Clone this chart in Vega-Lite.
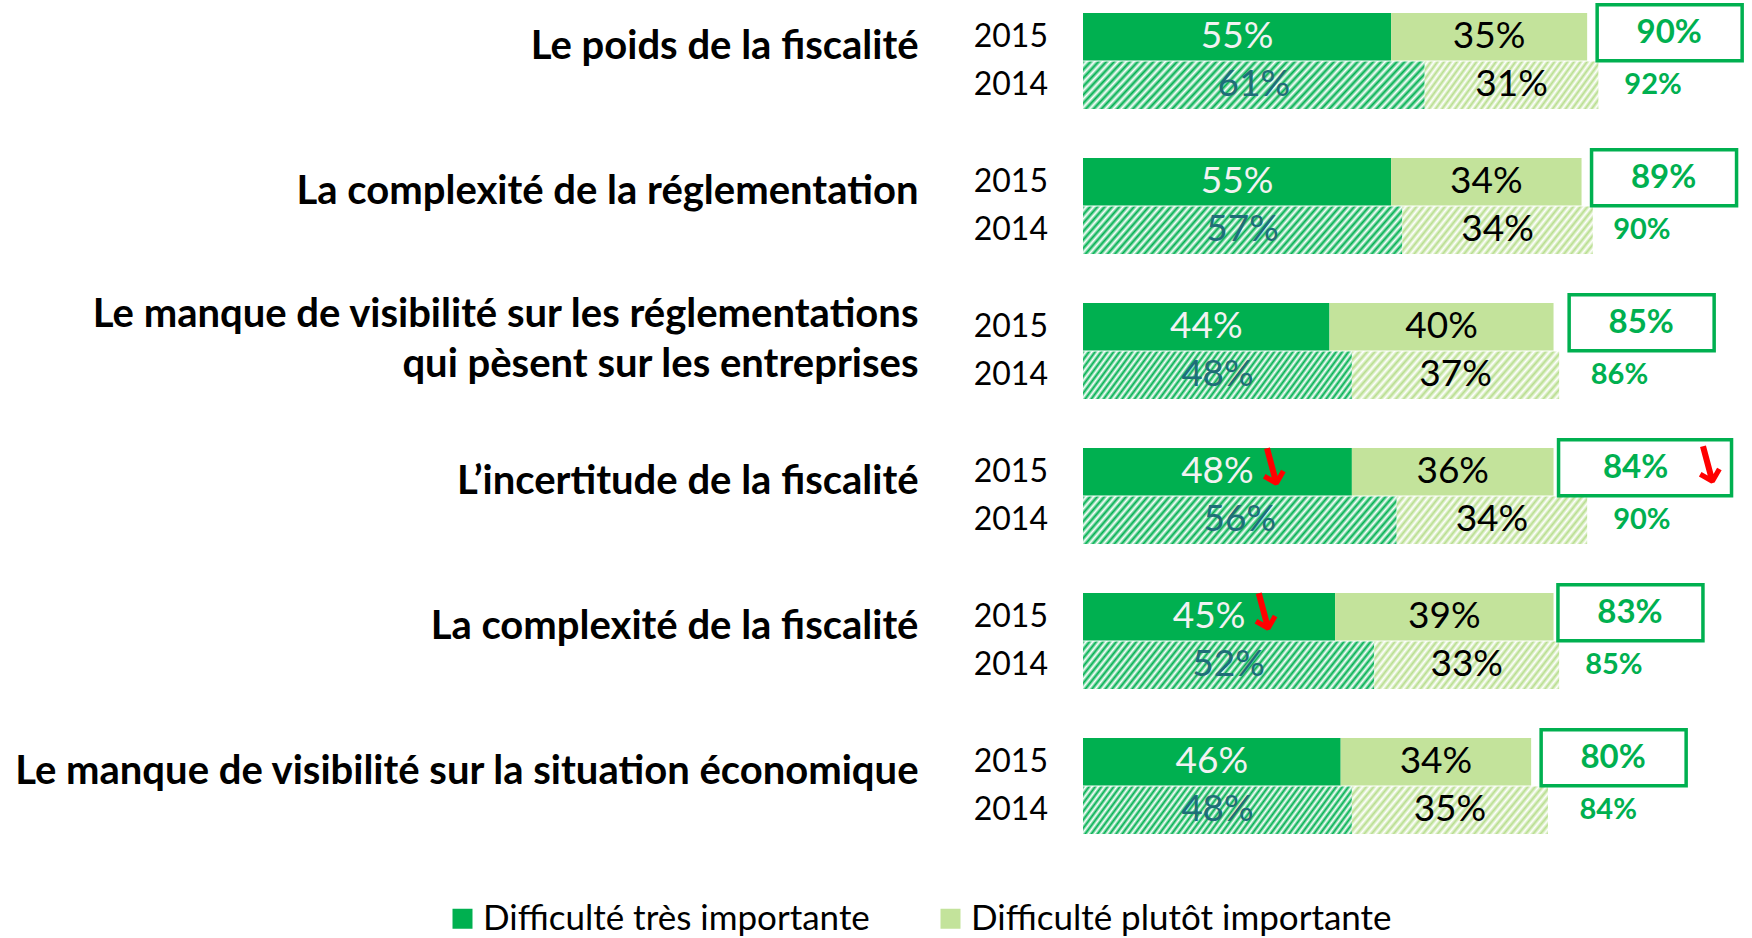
{
"$schema":"https://vega.github.io/schema/vega-lite/v6.json",
"autosize":{"type":"none"},
"padding":{"left":1083,"top":13,"right":8,"bottom":104},
"width":661,
"height":821,
"config":{"view":{"stroke":null},"font":"Lato"},
"datasets":{
"seg":[
{"cat":"Le poids de la fiscalité","year":"2015","seg":"Difficulté très importante","o":1,"v":0.55,"arrow":false},
{"cat":"Le poids de la fiscalité","year":"2015","seg":"Difficulté plutôt importante","o":2,"v":0.35,"arrow":false},
{"cat":"Le poids de la fiscalité","year":"2014","seg":"Difficulté très importante","o":1,"v":0.61,"arrow":false},
{"cat":"Le poids de la fiscalité","year":"2014","seg":"Difficulté plutôt importante","o":2,"v":0.31,"arrow":false},
{"cat":"La complexité de la réglementation","year":"2015","seg":"Difficulté très importante","o":1,"v":0.55,"arrow":false},
{"cat":"La complexité de la réglementation","year":"2015","seg":"Difficulté plutôt importante","o":2,"v":0.34,"arrow":false},
{"cat":"La complexité de la réglementation","year":"2014","seg":"Difficulté très importante","o":1,"v":0.57,"arrow":false},
{"cat":"La complexité de la réglementation","year":"2014","seg":"Difficulté plutôt importante","o":2,"v":0.34,"arrow":false},
{"cat":"Le manque de visibilité sur les réglementations|qui pèsent sur les entreprises","year":"2015","seg":"Difficulté très importante","o":1,"v":0.44,"arrow":false},
{"cat":"Le manque de visibilité sur les réglementations|qui pèsent sur les entreprises","year":"2015","seg":"Difficulté plutôt importante","o":2,"v":0.40,"arrow":false},
{"cat":"Le manque de visibilité sur les réglementations|qui pèsent sur les entreprises","year":"2014","seg":"Difficulté très importante","o":1,"v":0.48,"arrow":false},
{"cat":"Le manque de visibilité sur les réglementations|qui pèsent sur les entreprises","year":"2014","seg":"Difficulté plutôt importante","o":2,"v":0.37,"arrow":false},
{"cat":"L’incertitude de la fiscalité","year":"2015","seg":"Difficulté très importante","o":1,"v":0.48,"arrow":true},
{"cat":"L’incertitude de la fiscalité","year":"2015","seg":"Difficulté plutôt importante","o":2,"v":0.36,"arrow":false},
{"cat":"L’incertitude de la fiscalité","year":"2014","seg":"Difficulté très importante","o":1,"v":0.56,"arrow":false},
{"cat":"L’incertitude de la fiscalité","year":"2014","seg":"Difficulté plutôt importante","o":2,"v":0.34,"arrow":false},
{"cat":"La complexité de la fiscalité","year":"2015","seg":"Difficulté très importante","o":1,"v":0.45,"arrow":true},
{"cat":"La complexité de la fiscalité","year":"2015","seg":"Difficulté plutôt importante","o":2,"v":0.39,"arrow":false},
{"cat":"La complexité de la fiscalité","year":"2014","seg":"Difficulté très importante","o":1,"v":0.52,"arrow":false},
{"cat":"La complexité de la fiscalité","year":"2014","seg":"Difficulté plutôt importante","o":2,"v":0.33,"arrow":false},
{"cat":"Le manque de visibilité sur la situation économique","year":"2015","seg":"Difficulté très importante","o":1,"v":0.46,"arrow":false},
{"cat":"Le manque de visibilité sur la situation économique","year":"2015","seg":"Difficulté plutôt importante","o":2,"v":0.34,"arrow":false},
{"cat":"Le manque de visibilité sur la situation économique","year":"2014","seg":"Difficulté très importante","o":1,"v":0.48,"arrow":false},
{"cat":"Le manque de visibilité sur la situation économique","year":"2014","seg":"Difficulté plutôt importante","o":2,"v":0.35,"arrow":false}
],
"tot":[
{"cat":"Le poids de la fiscalité","year":"2015","total":0.90,"arrow":false},
{"cat":"Le poids de la fiscalité","year":"2014","total":0.92,"arrow":false},
{"cat":"La complexité de la réglementation","year":"2015","total":0.89,"arrow":false},
{"cat":"La complexité de la réglementation","year":"2014","total":0.90,"arrow":false},
{"cat":"Le manque de visibilité sur les réglementations|qui pèsent sur les entreprises","year":"2015","total":0.85,"arrow":false},
{"cat":"Le manque de visibilité sur les réglementations|qui pèsent sur les entreprises","year":"2014","total":0.86,"arrow":false},
{"cat":"L’incertitude de la fiscalité","year":"2015","total":0.84,"arrow":true},
{"cat":"L’incertitude de la fiscalité","year":"2014","total":0.90,"arrow":false},
{"cat":"La complexité de la fiscalité","year":"2015","total":0.83,"arrow":false},
{"cat":"La complexité de la fiscalité","year":"2014","total":0.85,"arrow":false},
{"cat":"Le manque de visibilité sur la situation économique","year":"2015","total":0.80,"arrow":false},
{"cat":"Le manque de visibilité sur la situation économique","year":"2014","total":0.84,"arrow":false}
]
},
"encoding":{
"y":{"field":"cat","type":"nominal","title":null,
"scale":{"domain":["Le poids de la fiscalité","La complexité de la réglementation","Le manque de visibilité sur les réglementations|qui pèsent sur les entreprises","L’incertitude de la fiscalité","La complexité de la fiscalité","Le manque de visibilité sur la situation économique"],"paddingInner":0.338,"paddingOuter":0},
"axis":{"labelExpr":"split(datum.label, '|')","labelFont":"Lato","labelFontWeight":"bold","labelFontSize":40,"labelColor":"#000000","labelPadding":165,"labelLimit":0,"ticks":false,"domain":false,"grid":false,
"labelOffset":{"condition":{"test":"indexof(datum.label, '|') >= 0","value":-36},"value":-14},
"labelLineHeight":50,"labelAlign":"right","labelBaseline":"middle"}},
"yOffset":{"field":"year","type":"nominal","scale":{"domain":["2015","2014"],"paddingInner":0.02,"paddingOuter":0}}
},
"layer":[
{"data":{"name":"seg"},"transform":[{"filter":"datum.year == '2015'"}],
"mark":{"type":"bar","strokeWidth":0},
"encoding":{
"x":{"field":"v","type":"quantitative","stack":"zero","scale":{"domain":[0,1.18],"nice":false,"zero":true},"axis":null},
"order":{"field":"o","type":"quantitative"},
"color":{"field":"seg","type":"nominal","scale":{"domain":["Difficulté très importante","Difficulté plutôt importante"],"range":["#00b050","#c3e39b"]},
"legend":{"orient":"none","legendX":-638,"legendY":888,"direction":"horizontal","title":null,"symbolType":"square","symbolSize":400,"symbolStrokeWidth":0,"labelFont":"Lato","labelFontSize":35,"labelColor":"#000000","labelOffset":3,"columnPadding":63,"labelLimit":0,"padding":0}}
}},
{"data":{"name":"seg"},"transform":[{"filter":"datum.year == '2014'"}],
"mark":{"type":"bar","strokeWidth":0},
"encoding":{
"x":{"field":"v","type":"quantitative","stack":"zero"},
"order":{"field":"o","type":"quantitative"},
"detail":{"field":"seg","type":"nominal"},
"fill":{"condition":{"test":"datum.o == 1","value":{"gradient":"linear","x1":0,"y1":0,"x2":1.13,"y2":0.147,"stops":[
{"offset":0,"color":"#00b050"},{"offset":0.01,"color":"#ffffff"},{"offset":0.02,"color":"#00b050"},{"offset":0.03,"color":"#ffffff"},{"offset":0.04,"color":"#00b050"},{"offset":0.05,"color":"#ffffff"},{"offset":0.06,"color":"#00b050"},{"offset":0.07,"color":"#ffffff"},{"offset":0.08,"color":"#00b050"},{"offset":0.09,"color":"#ffffff"},
{"offset":0.10,"color":"#00b050"},{"offset":0.11,"color":"#ffffff"},{"offset":0.12,"color":"#00b050"},{"offset":0.13,"color":"#ffffff"},{"offset":0.14,"color":"#00b050"},{"offset":0.15,"color":"#ffffff"},{"offset":0.16,"color":"#00b050"},{"offset":0.17,"color":"#ffffff"},{"offset":0.18,"color":"#00b050"},{"offset":0.19,"color":"#ffffff"},
{"offset":0.20,"color":"#00b050"},{"offset":0.21,"color":"#ffffff"},{"offset":0.22,"color":"#00b050"},{"offset":0.23,"color":"#ffffff"},{"offset":0.24,"color":"#00b050"},{"offset":0.25,"color":"#ffffff"},{"offset":0.26,"color":"#00b050"},{"offset":0.27,"color":"#ffffff"},{"offset":0.28,"color":"#00b050"},{"offset":0.29,"color":"#ffffff"},
{"offset":0.30,"color":"#00b050"},{"offset":0.31,"color":"#ffffff"},{"offset":0.32,"color":"#00b050"},{"offset":0.33,"color":"#ffffff"},{"offset":0.34,"color":"#00b050"},{"offset":0.35,"color":"#ffffff"},{"offset":0.36,"color":"#00b050"},{"offset":0.37,"color":"#ffffff"},{"offset":0.38,"color":"#00b050"},{"offset":0.39,"color":"#ffffff"},
{"offset":0.40,"color":"#00b050"},{"offset":0.41,"color":"#ffffff"},{"offset":0.42,"color":"#00b050"},{"offset":0.43,"color":"#ffffff"},{"offset":0.44,"color":"#00b050"},{"offset":0.45,"color":"#ffffff"},{"offset":0.46,"color":"#00b050"},{"offset":0.47,"color":"#ffffff"},{"offset":0.48,"color":"#00b050"},{"offset":0.49,"color":"#ffffff"},
{"offset":0.50,"color":"#00b050"},{"offset":0.51,"color":"#ffffff"},{"offset":0.52,"color":"#00b050"},{"offset":0.53,"color":"#ffffff"},{"offset":0.54,"color":"#00b050"},{"offset":0.55,"color":"#ffffff"},{"offset":0.56,"color":"#00b050"},{"offset":0.57,"color":"#ffffff"},{"offset":0.58,"color":"#00b050"},{"offset":0.59,"color":"#ffffff"},
{"offset":0.60,"color":"#00b050"},{"offset":0.61,"color":"#ffffff"},{"offset":0.62,"color":"#00b050"},{"offset":0.63,"color":"#ffffff"},{"offset":0.64,"color":"#00b050"},{"offset":0.65,"color":"#ffffff"},{"offset":0.66,"color":"#00b050"},{"offset":0.67,"color":"#ffffff"},{"offset":0.68,"color":"#00b050"},{"offset":0.69,"color":"#ffffff"},
{"offset":0.70,"color":"#00b050"},{"offset":0.71,"color":"#ffffff"},{"offset":0.72,"color":"#00b050"},{"offset":0.73,"color":"#ffffff"},{"offset":0.74,"color":"#00b050"},{"offset":0.75,"color":"#ffffff"},{"offset":0.76,"color":"#00b050"},{"offset":0.77,"color":"#ffffff"},{"offset":0.78,"color":"#00b050"},{"offset":0.79,"color":"#ffffff"},
{"offset":0.80,"color":"#00b050"},{"offset":0.81,"color":"#ffffff"},{"offset":0.82,"color":"#00b050"},{"offset":0.83,"color":"#ffffff"},{"offset":0.84,"color":"#00b050"},{"offset":0.85,"color":"#ffffff"},{"offset":0.86,"color":"#00b050"},{"offset":0.87,"color":"#ffffff"},{"offset":0.88,"color":"#00b050"},{"offset":0.89,"color":"#ffffff"},
{"offset":0.90,"color":"#00b050"},{"offset":0.91,"color":"#ffffff"},{"offset":0.92,"color":"#00b050"},{"offset":0.93,"color":"#ffffff"},{"offset":0.94,"color":"#00b050"},{"offset":0.95,"color":"#ffffff"},{"offset":0.96,"color":"#00b050"},{"offset":0.97,"color":"#ffffff"},{"offset":0.98,"color":"#00b050"},{"offset":0.99,"color":"#ffffff"},
{"offset":1,"color":"#00b050"}]}},
"value":{"gradient":"linear","x1":0,"y1":0,"x2":1.2,"y2":0.24,"stops":[
{"offset":0,"color":"#b8de8e"},{"offset":0.015,"color":"#ffffff"},{"offset":0.03,"color":"#b8de8e"},{"offset":0.045,"color":"#ffffff"},{"offset":0.06,"color":"#b8de8e"},{"offset":0.075,"color":"#ffffff"},{"offset":0.09,"color":"#b8de8e"},{"offset":0.105,"color":"#ffffff"},{"offset":0.12,"color":"#b8de8e"},{"offset":0.135,"color":"#ffffff"},
{"offset":0.15,"color":"#b8de8e"},{"offset":0.165,"color":"#ffffff"},{"offset":0.18,"color":"#b8de8e"},{"offset":0.195,"color":"#ffffff"},{"offset":0.21,"color":"#b8de8e"},{"offset":0.225,"color":"#ffffff"},{"offset":0.24,"color":"#b8de8e"},{"offset":0.255,"color":"#ffffff"},{"offset":0.27,"color":"#b8de8e"},{"offset":0.285,"color":"#ffffff"},
{"offset":0.3,"color":"#b8de8e"},{"offset":0.315,"color":"#ffffff"},{"offset":0.33,"color":"#b8de8e"},{"offset":0.345,"color":"#ffffff"},{"offset":0.36,"color":"#b8de8e"},{"offset":0.375,"color":"#ffffff"},{"offset":0.39,"color":"#b8de8e"},{"offset":0.405,"color":"#ffffff"},{"offset":0.42,"color":"#b8de8e"},{"offset":0.435,"color":"#ffffff"},
{"offset":0.45,"color":"#b8de8e"},{"offset":0.465,"color":"#ffffff"},{"offset":0.48,"color":"#b8de8e"},{"offset":0.495,"color":"#ffffff"},{"offset":0.51,"color":"#b8de8e"},{"offset":0.525,"color":"#ffffff"},{"offset":0.54,"color":"#b8de8e"},{"offset":0.555,"color":"#ffffff"},{"offset":0.57,"color":"#b8de8e"},{"offset":0.585,"color":"#ffffff"},
{"offset":0.6,"color":"#b8de8e"},{"offset":0.615,"color":"#ffffff"},{"offset":0.63,"color":"#b8de8e"},{"offset":0.645,"color":"#ffffff"},{"offset":0.66,"color":"#b8de8e"},{"offset":0.675,"color":"#ffffff"},{"offset":0.69,"color":"#b8de8e"},{"offset":0.705,"color":"#ffffff"},{"offset":0.72,"color":"#b8de8e"},{"offset":0.735,"color":"#ffffff"},
{"offset":0.75,"color":"#b8de8e"},{"offset":0.765,"color":"#ffffff"},{"offset":0.78,"color":"#b8de8e"},{"offset":0.795,"color":"#ffffff"},{"offset":0.81,"color":"#b8de8e"},{"offset":0.825,"color":"#ffffff"},{"offset":0.84,"color":"#b8de8e"},{"offset":0.855,"color":"#ffffff"},{"offset":0.87,"color":"#b8de8e"},{"offset":0.885,"color":"#ffffff"},
{"offset":0.9,"color":"#b8de8e"},{"offset":0.915,"color":"#ffffff"},{"offset":0.93,"color":"#b8de8e"},{"offset":0.945,"color":"#ffffff"},{"offset":0.96,"color":"#b8de8e"},{"offset":0.975,"color":"#ffffff"},{"offset":0.99,"color":"#b8de8e"},{"offset":1,"color":"#dcefc6"}]}}
}},
{"data":{"name":"seg"},"transform":[{"filter":"datum.year == '2015'"}],
"mark":{"type":"text","font":"Lato","fontSize":37,"baseline":"middle","align":"center"},
"encoding":{
"x":{"field":"v","type":"quantitative","stack":"zero","bandPosition":0.5},
"order":{"field":"o","type":"quantitative"},
"detail":{"field":"seg","type":"nominal"},
"text":{"field":"v","type":"quantitative","format":".0%"},
"color":{"condition":{"test":"datum.o == 1","value":"#f2f2f2"},"value":"#000000"}
}},
{"data":{"name":"seg"},"transform":[{"filter":"datum.year == '2014'"}],
"mark":{"type":"text","font":"Lato","fontSize":37,"baseline":"middle","align":"center"},
"encoding":{
"x":{"field":"v","type":"quantitative","stack":"zero","bandPosition":0.5},
"order":{"field":"o","type":"quantitative"},
"detail":{"field":"seg","type":"nominal"},
"text":{"field":"v","type":"quantitative","format":".0%"},
"color":{"condition":{"test":"datum.o == 1","value":"#1f6e78"},"value":"#000000"}
}},
{"data":{"name":"seg"},"transform":[{"filter":"datum.year == '2015'"}],
"mark":{"type":"text","font":"DejaVu Sans","fontWeight":"bold","fontSize":52,"baseline":"middle","align":"center","dx":54,"dy":12,"angle":-15,"color":"#ff0000"},
"encoding":{
"x":{"field":"v","type":"quantitative","stack":"zero","bandPosition":0.5},
"order":{"field":"o","type":"quantitative"},
"detail":{"field":"seg","type":"nominal"},
"text":{"condition":{"test":"datum.arrow","value":"↓"},"value":""}
}},
{"data":{"name":"tot"},"transform":[{"filter":"datum.year == '2015' && !datum.arrow"}],
"mark":{"type":"point","shape":"M0.138,-0.441H2.138V0.331H0.138Z","size":21025,"filled":false,"stroke":"#00b050","strokeWidth":3.5,"opacity":1},
"encoding":{"x":{"field":"total","type":"quantitative"}}},
{"data":{"name":"tot"},"transform":[{"filter":"datum.year == '2015' && datum.arrow"}],
"mark":{"type":"point","shape":"M0.069,-0.441H2.455V0.331H0.069Z","size":21025,"filled":false,"stroke":"#00b050","strokeWidth":3.5,"opacity":1},
"encoding":{"x":{"field":"total","type":"quantitative"}}},
{"data":{"name":"tot"},"transform":[{"filter":"datum.year == '2015'"}],
"mark":{"type":"text","font":"Lato","fontWeight":"bold","fontSize":33,"baseline":"middle","align":"center","dx":82,"dy":-4,"color":"#00b050"},
"encoding":{"x":{"field":"total","type":"quantitative"},"text":{"field":"total","type":"quantitative","format":".0%"}}},
{"data":{"name":"tot"},"transform":[{"filter":"datum.year == '2014'"}],
"mark":{"type":"text","font":"Lato","fontWeight":"bold","fontSize":29,"baseline":"middle","align":"left","dx":26,"color":"#00b050"},
"encoding":{"x":{"field":"total","type":"quantitative"},"text":{"field":"total","type":"quantitative","format":".0%"}}},
{"data":{"name":"tot"},"transform":[{"filter":"datum.arrow"}],
"mark":{"type":"text","font":"DejaVu Sans","fontWeight":"bold","fontSize":52,"baseline":"middle","align":"center","dx":151,"dy":36,"angle":-15,"color":"#ff0000"},
"encoding":{"x":{"field":"total","type":"quantitative"},"text":{"value":"↓"}}},
{"data":{"name":"tot"},
"mark":{"type":"text","font":"Lato","fontSize":32,"baseline":"middle","align":"right","dx":-35,"color":"#000000"},
"encoding":{"x":{"datum":0,"type":"quantitative"},"text":{"field":"year","type":"nominal"}}}
]
}
